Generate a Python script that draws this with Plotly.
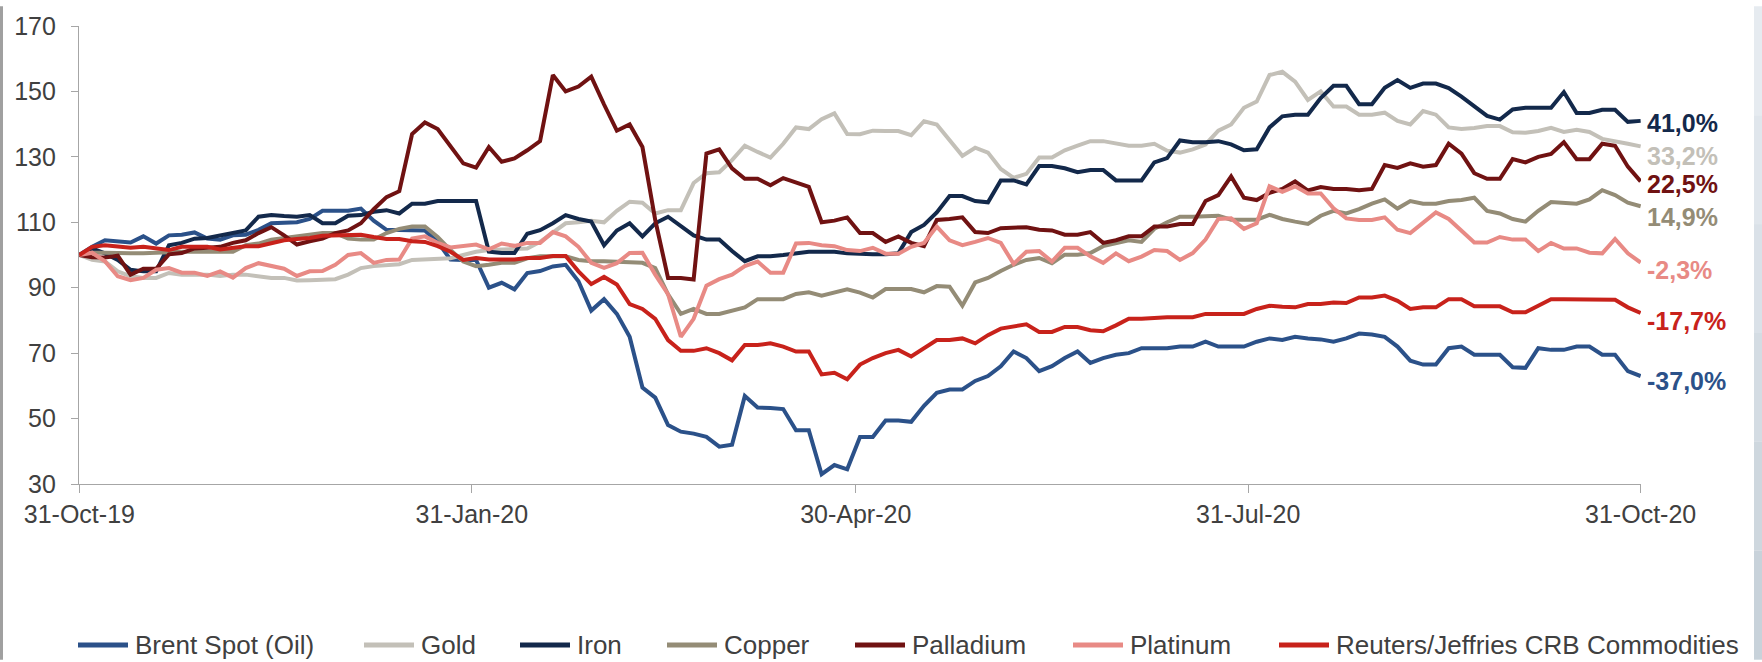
import pandas as pd
import plotly.graph_objects as go

# Index levels (31-Oct-2019 = 100), sampled every 3 days through 31-Oct-2020
dates = pd.date_range("2019-10-31", "2020-10-31", freq="3D")

brent = [
    100, 102.5, 104.5, 104, 103.8, 105.7, 103.5, 106, 106.2, 106.9,
    105, 104.7, 106, 106.2, 107.7, 109.7, 110, 110, 111, 113.5,
    113.5, 113.5, 114.2, 110.5, 107.7, 107.7, 107.5, 107.5, 104, 98.6,
    98.5, 98.5, 90, 91.5, 89.5, 94.5, 95.1, 96.5, 97, 92,
    83, 86.5, 82, 75, 59.5, 56.4, 48, 46, 45.4, 44.4,
    41.4, 42, 56.9, 53.4, 53.2, 52.9, 46.4, 46.4, 33, 35.8,
    34.5, 44.4, 44.4, 49.4, 49.4, 49, 53.9, 57.9, 58.9, 58.9,
    61.5, 63, 66, 70.5, 68.5, 64.5, 66, 68.5, 70.5, 67,
    68.5, 69.5, 70, 71.5, 71.5, 71.5, 72, 72, 73.5, 72,
    72, 72, 73.5, 74.5, 74, 75, 74.5, 74.2, 73.5, 74.5,
    76, 75.7, 75, 72, 67.7, 66.5, 66.5, 71.5, 72, 69.5,
    69.5, 69.5, 65.7, 65.5, 71.5, 71, 71, 72, 72, 69.5,
    69.5, 64.5, 63.0,
]

gold = [
    100, 98.5, 98, 95, 93.5, 93, 93, 94.5, 94, 94,
    94, 93.6, 94, 94, 93.5, 93, 93, 92.2, 92.3, 92.6,
    92.6, 94, 96, 96.6, 97, 97.2, 98.5, 98.6, 98.6, 99,
    100, 101, 101.5, 101.7, 101.7, 102, 104, 107, 109.7, 110,
    110.5, 110, 113.5, 116.3, 116, 112.7, 113.7, 113.7, 122, 125,
    125.3, 129, 133.4, 131.5, 129.8, 134, 139, 138.5, 141.5, 143.3,
    137, 136.9, 138, 137.9, 137.9, 136.6, 140.9, 139.9, 134.9, 130.3,
    132.8, 131.3, 126.3, 123.6, 124.8, 129.8, 129.8, 132, 133.4, 134.8,
    134.8, 134, 133.4, 133.4, 134, 131.9, 131.3, 132.3, 133.8, 138,
    139.9, 145, 146.9, 155, 156, 153, 147.4, 150, 145.4, 145.4,
    142.9, 142.9, 143.5, 141, 139.9, 144, 142.9, 139, 138.5, 138.8,
    139.4, 139.4, 137.5, 137.4, 137.9, 138.9, 137.6, 138.3, 137.6, 135.5,
    134.9, 134, 133.2,
]

iron = [
    100, 102, 100.5, 98.5, 95.5, 95, 95, 103, 103.7, 105,
    105.2, 106, 106.7, 107.5, 111.7, 112.2, 111.9, 111.7, 112.2, 109.7,
    109.7, 112, 112.2, 113.2, 113.7, 112.7, 115.7, 115.7, 116.5, 116.5,
    116.5, 116.5, 101, 100.6, 100.6, 106.5, 107.6, 109.7, 112.2, 111,
    110.2, 103, 107.5, 109.7, 105.7, 109.7, 111.7, 108.7, 106, 104.7,
    104.7, 101.2, 98.1, 99.6, 99.6, 100, 100.5, 101, 101, 101,
    100.5, 100.2, 100.2, 100.2, 100.5, 107, 109.2, 113, 118, 118,
    116.5, 116.1, 122.8, 122.8, 121.6, 127.2, 127.2, 126.5, 125.3, 126,
    126, 122.8, 122.8, 122.8, 128.3, 129.6, 135, 134.5, 134.5, 134.8,
    133.8, 132, 132.3, 139, 142.4, 142.9, 142.9, 148, 151.7, 151.7,
    146.1, 146.1, 151.1, 153.5, 151.1, 152.4, 152.4, 151, 148.4, 145.4,
    142.5, 141.4, 144.5, 145, 145, 145, 149.8, 143.4, 143.4, 144.4,
    144.4, 140.7, 141.0,
]

copper = [
    100, 100.7, 100.7, 100.5, 100.5, 100.5, 100.7, 101, 101, 101,
    101, 101, 101, 103, 103.5, 104.7, 105.2, 105.7, 106, 106.7,
    106.7, 105, 104.7, 104.7, 106.7, 108, 108.7, 108.7, 105.5, 101.5,
    98, 96.6, 97, 97.6, 97.6, 99, 99.6, 99.6, 99.6, 98.5,
    98.1, 98.1, 98.1, 97.8, 97.6, 96, 88, 82, 83.5, 82,
    82, 83, 84, 86.5, 86.5, 86.5, 88.1, 88.6, 87.6, 88.6,
    89.5, 88.5, 87, 89.6, 89.6, 89.6, 88.6, 90.5, 90.3, 84.5,
    91.6, 93, 95.1, 97, 98.5, 99.1, 97.5, 100.1, 100.1, 100.6,
    102.7, 103.7, 104.5, 104, 108, 110, 111.7, 111.7, 112, 112,
    110.8, 110.8, 110.8, 112.3, 111, 110.2, 109.5, 112, 113.5, 112.7,
    114, 115.7, 117, 114.2, 116.5, 115.7, 115.7, 116.5, 116.8, 117.5,
    113.5, 112.7, 111, 110.2, 113.5, 116.2, 116, 115.7, 117, 119.8,
    118.3, 116, 114.9,
]

palladium = [
    100, 99.3, 99.2, 99.8, 94, 95.8, 95.8, 100.2, 100.6, 102,
    102.2, 102.5, 103.7, 104.5, 106.7, 108.5, 106, 103.2, 104.2, 105,
    106.7, 107.5, 109.7, 114, 117.7, 119.5, 137, 140.5, 138.5, 133,
    128, 126.7, 133, 128.5, 129.5, 132, 134.8, 155, 150, 151.5,
    154.5, 146, 138, 139.9, 133, 110.7, 93, 93, 92.5, 131,
    132.3, 126.5, 123.3, 123.3, 121.3, 123.5, 122, 120.8, 110, 110.5,
    111.5, 106.7, 106.7, 104, 105.7, 103.7, 102.7, 110.7, 111, 111.5,
    107, 106.7, 108.2, 108.2, 108.5, 107.7, 107.5, 106.2, 106.2, 107,
    103.7, 104.5, 105.7, 105.7, 108.7, 108.7, 109.5, 109.5, 116.5, 118.3,
    124, 117.5, 116.8, 119, 120.2, 122.5, 119.7, 120.8, 120.2, 120.2,
    119.8, 120.2, 127.5, 126.6, 128, 127, 127.5, 134, 131, 125,
    123.3, 123.3, 129.3, 128.3, 130, 130.9, 134.5, 129.3, 129.3, 134,
    133.4, 127, 122.5,
]

platinum = [
    100, 100.7, 98.1, 93.5, 92.3, 93, 95.5, 96, 94.6, 94.6,
    93.6, 95, 93.1, 96, 97.5, 96.6, 95.8, 93.6, 95, 95.1,
    97, 100, 100.6, 97.6, 98.5, 98.6, 105, 105.7, 103.7, 102.3,
    102.7, 103.2, 101.7, 103.5, 102.8, 103.7, 103.7, 107, 105.7, 102.5,
    97.6, 96.1, 97.5, 100.6, 100.7, 94, 88, 75, 80.5, 90.6,
    92.6, 94, 96.6, 98, 94.6, 94.6, 103.5, 103.7, 103, 102.7,
    101.5, 101.2, 102.2, 100.4, 100.4, 102.5, 103.7, 108.7, 104.5, 103,
    104, 105.2, 103.7, 97.3, 101, 101.2, 98, 102.2, 102.2, 99.6,
    97.6, 100.5, 98.1, 99.5, 101.5, 101.2, 98.5, 100.6, 104.7, 111,
    111.2, 108, 109.7, 121, 119.3, 121, 118.8, 118.8, 114.3, 111.2,
    110.7, 110.7, 111.5, 107.7, 106.7, 109.7, 113, 111, 107.2, 103.8,
    103.8, 105.5, 104.7, 104.7, 101.2, 103.7, 102, 102, 100.7, 100.5,
    104.9, 100.5, 97.7,
]

crb = [
    100, 102.5, 103, 102.5, 102.2, 102.5, 102, 101.5, 102.5, 102.5,
    102.5, 101.7, 102.2, 102.7, 102.7, 103.7, 104.5, 104.9, 105.2, 105.9,
    105.9, 106, 106.2, 105.5, 104.9, 104.9, 104.2, 104, 102.7, 101,
    98.5, 99.1, 98.6, 98.6, 98.6, 99.1, 99.1, 99.7, 99.7, 95,
    91.1, 93.3, 91, 85, 83.5, 80.5, 74, 70.7, 70.7, 71.5,
    70, 67.8, 72.5, 72.5, 73, 72, 70.5, 70.5, 63.5, 64,
    62, 66.5, 68.5, 70, 71, 69, 71.5, 74, 74, 74.5,
    73, 75.5, 77.5, 78, 78.8, 76.5, 76.5, 78, 78, 77,
    76.7, 78.5, 80.5, 80.5, 80.8, 81, 81, 81, 82, 82,
    82, 82, 83.5, 84.5, 84.2, 84, 85, 85, 85.5, 85.3,
    87, 87, 87.6, 86, 83.5, 84, 84, 86.5, 86.5, 84.3,
    84.3, 84.3, 82.5, 82.5, 84.5, 86.5, 86.5, 86.5, 86.5, 86.3,
    86.3, 84, 82.3,
]

series_names = [
    "Brent Spot (Oil)", "Gold", "Iron", "Copper",
    "Palladium", "Platinum", "Reuters/Jeffries CRB Commodities",
]
series_values = [brent, gold, iron, copper, palladium, platinum, crb]
series_colors = ["#2B5189", "#C3C0B8", "#13294B", "#948C76",
                 "#701212", "#E88A85", "#C8221B"]
# vertical nudge (px) of each end label so that neighbours stay apart
label_nudge = [-5, -10, -2, -11, -3, -7, -8]

x_tick_dates = ["2019-10-31", "2020-01-31", "2020-04-30", "2020-07-31", "2020-10-31"]
x_tick_text = ["31-Oct-19", "31-Jan-20", "30-Apr-20", "31-Jul-20", "31-Oct-20"]
y_ticks = [30, 50, 70, 90, 110, 130, 150, 170]

FONT = "Arial, Liberation Sans, sans-serif"
TEXT = "#404040"
AXIS = "#A6A6A6"

W, H = 1762, 662
M_L, M_R, M_T, M_B = 79, 121, 20, 178
PLOT_W = W - M_L - M_R
PLOT_H = H - M_T - M_B


def px_x(px):
    return (px - M_L) / PLOT_W


def px_y(py):
    return (H - M_B - py) / PLOT_H


fig = go.Figure()
for name, vals, color in zip(series_names, series_values, series_colors):
    fig.add_trace(go.Scatter(
        x=dates, y=vals, mode="lines", name=name,
        line=dict(color=color, width=4), showlegend=False,
    ))

# change since start, written at the right end of each line
annotations = []
for vals, color, nudge in zip(series_values, series_colors, label_nudge):
    last = vals[-1]
    label = f"{last - 100:.1f}".replace(".", ",") + "%"
    annotations.append(dict(
        x=dates[-1], y=last, xref="x", yref="y",
        text=f"<b>{label}</b>", showarrow=False,
        xanchor="left", yanchor="middle", xshift=5, yshift=nudge,
        borderpad=0,
        font=dict(family=FONT, size=25, color=color),
    ))

# legend row along the bottom
legend_left = [76, 362, 518, 665, 853, 1071, 1277]
legend_row = 647
shapes = []
for name, color, lx in zip(series_names, series_colors, legend_left):
    shapes.append(dict(
        type="line", xref="paper", yref="paper",
        x0=px_x(lx + 2), x1=px_x(lx + 52), y0=px_y(legend_row), y1=px_y(legend_row),
        line=dict(color=color, width=5),
    ))
    annotations.append(dict(
        x=px_x(lx + 57), y=px_y(legend_row), xref="paper", yref="paper",
        text=name, showarrow=False, xanchor="left", yanchor="middle",
        font=dict(family=FONT, size=26, color=TEXT),
    ))

# page edges
shapes.append(dict(
    type="rect", xref="paper", yref="paper", layer="above",
    x0=px_x(0), x1=px_x(3), y0=px_y(H), y1=px_y(0),
    fillcolor="#A0A0A0", line=dict(width=0),
))
edge_shades = ["#E6EBF0", "#E0E6EC", "#DAE1E8", "#D4DCE3", "#CED7DE", "#C8D2DA"]
band = H / len(edge_shades)
for i, shade in enumerate(edge_shades):
    shapes.append(dict(
        type="rect", xref="paper", yref="paper", layer="above",
        x0=px_x(1754), x1=px_x(W), y0=px_y(band * (i + 1)), y1=px_y(band * i),
        fillcolor=shade, line=dict(width=0),
    ))

fig.update_layout(
    width=W, height=H,
    margin=dict(l=M_L, r=M_R, t=M_T, b=M_B, pad=0),
    paper_bgcolor="white", plot_bgcolor="white",
    font=dict(family=FONT, size=25, color=TEXT),
    showlegend=False,
    annotations=annotations,
    shapes=shapes,
    xaxis=dict(
        type="date",
        range=["2019-10-30 22:00", "2020-10-31 02:00"],
        tickmode="array", tickvals=x_tick_dates, ticktext=x_tick_text,
        ticks="outside", ticklen=8, tickwidth=1.3, tickcolor=AXIS,
        showline=True, linecolor=AXIS, linewidth=1.3,
        showgrid=False, zeroline=False,
        tickfont=dict(family=FONT, size=25, color=TEXT),
    ),
    yaxis=dict(
        range=[30, 170],
        tickmode="array", tickvals=y_ticks,
        ticks="outside", ticklen=7, tickwidth=1.3, tickcolor=AXIS,
        showline=True, linecolor=AXIS, linewidth=1.3,
        showgrid=False, zeroline=False,
        ticklabelstandoff=10,
        tickfont=dict(family=FONT, size=25, color=TEXT),
    ),
)

fig.write_html("out.html")
